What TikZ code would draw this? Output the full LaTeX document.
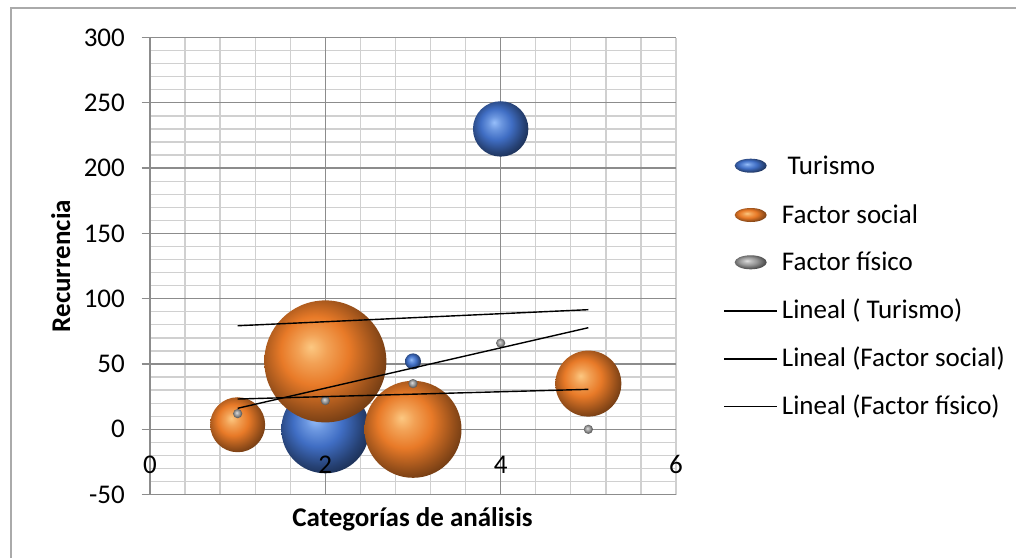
\documentclass[tikz,border=0pt]{standalone}
\usepackage{fontspec}
\setmainfont{Carlito}
\definecolor{bordc}{RGB}{170,170,170}
\definecolor{minorc}{RGB}{208,208,208}
\definecolor{majorc}{RGB}{140,140,140}
\definecolor{bbase}{RGB}{64,110,196}
\definecolor{bhi}{RGB}{150,190,250}
\definecolor{obase}{RGB}{232,122,40}
\definecolor{ohi}{RGB}{252,200,130}
\definecolor{gbase}{RGB}{150,150,150}
\definecolor{ghi}{RGB}{225,225,225}
\pgfdeclareradialshading{blueball}{\pgfpoint{-6bp}{6bp}}{color(0bp)=(bhi); color(6bp)=(bhi!50!bbase); color(14bp)=(bbase); color(24bp)=(bbase!60!black); color(30bp)=(bbase!40!black); color(50bp)=(bbase!40!black)}
\pgfdeclareradialshading{orangeball}{\pgfpoint{-6bp}{6bp}}{color(0bp)=(ohi); color(6bp)=(ohi!50!obase); color(14bp)=(obase); color(24bp)=(obase!65!black); color(30bp)=(obase!45!black); color(50bp)=(obase!45!black)}
\pgfdeclareradialshading{greyball}{\pgfpoint{-6bp}{6bp}}{color(0bp)=(ghi); color(6bp)=(ghi!50!gbase); color(14bp)=(gbase); color(24bp)=(gbase!60!black); color(30bp)=(gbase!40!black); color(50bp)=(gbase!40!black)}
\tikzset{
  minorline/.style={draw=minorc, line width=1.3pt},
  majorline/.style={draw=majorc, line width=1.3pt},
  trend/.style={draw=black, line width=1.4pt},
  ticklabel/.style={inner sep=0pt, text=black},
  legtext/.style={anchor=base west, inner sep=0pt, text=black},
  bball/.style={shading=blueball},
  oball/.style={shading=orangeball},
  gball/.style={shading=greyball}
}
\begin{document}
\begin{tikzpicture}[x=1pt,y=-1pt,font=\fontsize{27}{32}\selectfont]
\useasboundingbox (0,0) rectangle (1016,558);
\draw[draw=bordc, line width=2pt] (11,558) -- (11,8) -- (1016,8);

\begin{scope}[shift={(150pt,-429.3pt)}, x=87.6667pt, y=1.306pt]
  % minor grid
  \foreach \v in {-50,-40,...,300} \draw[minorline] (0,\v) -- (6,\v);
  \foreach \i in {0,...,15} \draw[minorline] (\i*0.4,-50) -- (\i*0.4,300);
  % major grid
  \foreach \v in {-50,0,...,300} \draw[majorline] (-0.095,\v) -- (6,\v);
  \foreach \u in {0,2,4} \draw[majorline] (\u,-50) -- (\u,300);
  % y labels
  \foreach \v in {-50,0,...,300} \node[ticklabel, anchor=east] (yl\v) at (-0.285,\v) {\v};

  % Turismo bubbles
  \shade[bball] (2,0) circle[radius=44pt];
  \shade[bball] (3,52) circle[radius=8pt];
  \shade[bball] (4,230) circle[radius=27.7pt];
  % Factor social bubbles
  \shade[oball] (1,3.5) circle[radius=27.5pt];
  \shade[oball] (2,52) circle[radius=61pt];
  \shade[oball] (3,0) circle[radius=48.5pt];
  \shade[oball] (5,35) circle[radius=33pt];
  % Factor fisico bubbles
  \foreach \x/\y in {1/12,2/22,3/35,4/66,5/0} \shade[gball] (\x,\y) circle[radius=4.6pt];

  % trend lines
  \coordinate (ta) at (1,79.3);  \coordinate (tb) at (5,91.6);
  \coordinate (sa) at (1,16.1);  \coordinate (sb) at (5,77.8);
  \coordinate (fa) at (1,23.2);  \coordinate (fb) at (5,30.6);
  \draw[trend] (ta) -- (tb);
  \draw[trend] (sa) -- (sb);
  \draw[trend] (fa) -- (fb);

  % x labels (drawn on top of the bubbles)
  \foreach \u in {0,2,4,6} \node[ticklabel] (xl\u) at (\u,-27) {\u};
\end{scope}

% axis titles
\node[anchor=base, inner sep=0pt, font=\fontsize{27}{32}\selectfont\bfseries] (xtitle) at (412.5,526) {Categorías de análisis};
\node[anchor=base, inner sep=0pt, rotate=90, font=\fontsize{27}{32}\selectfont\bfseries] (ytitle) at (70,266) {Recurrencia};

% legend
\shade[bball] (750.7,165.7) ellipse[x radius=16pt, y radius=7pt];
\shade[oball] (750.7,215) ellipse[x radius=16pt, y radius=7pt];
\shade[gball] (750.7,262.3) ellipse[x radius=16pt, y radius=7pt];
\node[legtext] (lg1) at (787.3,174.3) {Turismo};
\node[legtext] (lg2) at (781.7,223.6) {Factor social};
\node[legtext] (lg3) at (781.7,270.9) {Factor físico};
\coordinate (l4a) at (724.3,311); \coordinate (l4b) at (776.7,311);
\coordinate (l5a) at (724.3,359); \coordinate (l5b) at (776.7,359);
\coordinate (l6a) at (724.3,406.7); \coordinate (l6b) at (776.7,406.7);
\draw[trend, line width=1.2pt] (l4a) -- (l4b);
\draw[trend, line width=1.2pt] (l5a) -- (l5b);
\draw[trend, line width=1.2pt] (l6a) -- (l6b);
\node[legtext] (lg4) at (781.7,318.3) {Lineal ( Turismo)};
\node[legtext] (lg5) at (781.7,366.3) {Lineal (Factor social)};
\node[legtext] (lg6) at (781.7,414) {Lineal (Factor físico)};
\end{tikzpicture}
\end{document}
